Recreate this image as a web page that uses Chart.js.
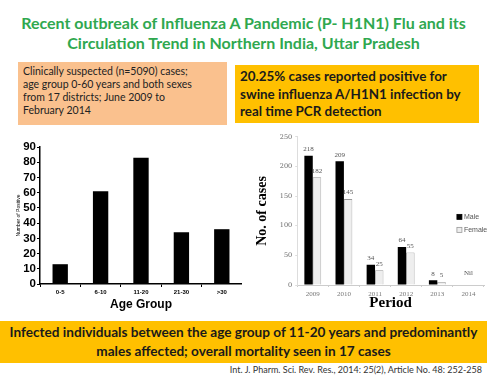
<!DOCTYPE html>
<html>
<head>
<meta charset="utf-8">
<script src="https://cdn.jsdelivr.net/npm/chart.js@4"></script>
<style>
  html, body { margin: 0; padding: 0; background: #fff; }
  body { width: 487px; height: 376px; position: relative; overflow: hidden; font-family: Lato, "Open Sans", sans-serif; }
  .abs { position: absolute; box-sizing: border-box; }
  #title { left: 0; top: 13px; width: 487px; text-align: center; color: #2fa84f; font-weight: bold; font-size: 16px; line-height: 20px; }
  #boxLeft { left: 18px; top: 62px; width: 209px; height: 63px; background: #fac18e; color: #222; font-size: 10.5px; line-height: 13px; padding: 3px 5px; }
  #boxRight { left: 235px; top: 65px; width: 244px; height: 58px; background: #ffc000; color: #1a1a1a; font-weight: bold; font-size: 13.4px; line-height: 17.5px; padding: 3px 5px; white-space: nowrap; }
  #banner { left: 0; top: 321px; width: 487px; height: 42px; background: #ffc000; color: #1a1a1a; font-weight: bold; font-size: 13.6px; line-height: 19px; padding-top: 2px; text-align: center; white-space: nowrap; }
  #cite { right: 5px; top: 365px; font-size: 9px; line-height: 10px; color: #333; white-space: nowrap; }
  #ageWrap { left: 0; top: 130px; width: 242px; height: 182px; }
  #periodWrap { left: 242px; top: 130px; width: 245px; height: 182px; }
</style>
</head>
<body>
<div id="title" class="abs">Recent outbreak of Influenza A Pandemic (P- H1N1) Flu and its<br>Circulation Trend in Northern India, Uttar Pradesh</div>
<div id="boxLeft" class="abs">Clinically suspected (n=5090) cases;<br>age group 0-60 years and both sexes<br>from 17 districts; June 2009 to<br>February 2014</div>
<div id="boxRight" class="abs">20.25% cases reported positive for<br>swine influenza A/H1N1 infection by<br>real time PCR detection</div>
<div id="ageWrap" class="abs"><canvas id="ageChart"></canvas></div>
<div id="periodWrap" class="abs"><canvas id="periodChart"></canvas></div>
<div id="banner" class="abs">Infected individuals between the age group of 11-20 years and predominantly<br>males affected; overall mortality seen in 17 cases</div>
<div id="cite" class="abs">Int. J. Pharm. Sci. Rev. Res., 2014: 25(2), Article No. 48: 252-258</div>

<script>
// age group chart data
const ageGroups = ["0-5", "6-10", "11-20", "21-30", ">30"];
const positiveByAge = [13, 61, 83, 34, 36];
const ageTicks = { min: 0, max: 90, step: 10 };

// yearly chart data (2014 = Nil)
const years = ["2009", "2010", "2011", "2012", "2013", "2014"];
const maleCases = [218, 209, 34, 64, 8, null];
const femaleCases = [182, 145, 25, 55, 5, null];
const yearTicks = { min: 0, max: 250, step: 50 };
const nilText = "Nil";

Chart.defaults.animation = false;

new Chart(document.getElementById("ageChart"), {
    type: "bar",
    data: {
        labels: ageGroups,
        datasets: [{
            label: "Number of Positive",
            data: positiveByAge,
            backgroundColor: "#000",
            barPercentage: 0.38,
            categoryPercentage: 1
        }]
    },
    options: {
        responsive: true,
        maintainAspectRatio: false,
        layout: { padding: { top: 17, right: 0, left: 0, bottom: 0 } },
        plugins: { legend: { display: false }, tooltip: { enabled: false } },
        scales: {
            x: {
                afterFit: s => { s.height = 28; },
                border: { color: "#000", width: 1.5 },
                grid: { drawOnChartArea: false, color: "#000", tickLength: 3 },
                ticks: { color: "#000", padding: 2, font: { family: "Liberation Sans", size: 6, weight: "bold" } },
                title: { display: true, text: "Age Group", color: "#000", padding: 0,
                         font: { family: "Liberation Sans", size: 12, weight: "bold" } }
            },
            y: {
                min: ageTicks.min,
                max: ageTicks.max,
                afterFit: s => { s.width = 40; },
                border: { color: "#000", width: 1.5 },
                grid: { drawOnChartArea: false, color: "#000", tickLength: 3 },
                ticks: { stepSize: ageTicks.step, autoSkip: false, color: "#000", padding: 1,
                         font: { family: "Liberation Sans", size: 11.5, weight: "bold" } },
                title: { display: true, text: "Number of Positive", color: "#000", padding: { top: 16, bottom: 0 },
                         font: { family: "Liberation Sans", size: 5 } }
            }
        }
    }
});

// labels above bars + "Nil" for the empty year
const barLabels = {
    id: "barLabels",
    afterDatasetsDraw(chart) {
        const ctx = chart.ctx;
        ctx.save();
        ctx.font = "7px 'Liberation Serif'";
        ctx.fillStyle = "#555";
        ctx.textAlign = "center";
        ctx.textBaseline = "bottom";
        chart.data.datasets.forEach((ds, i) => {
            chart.getDatasetMeta(i).data.forEach((bar, j) => {
                if (ds.data[j] == null) return;
                ctx.fillText(String(ds.data[j]), bar.x, bar.y - 3);
            });
        });
        years.forEach((y, j) => {
            if (maleCases[j] == null && femaleCases[j] == null) {
                ctx.fillText(nilText, chart.scales.x.getPixelForValue(j), chart.scales.y.getPixelForValue(0) - 8);
            }
        });
        ctx.restore();
    }
};

// small legend inside the plot, on the right
const innerLegend = {
    id: "innerLegend",
    afterDraw(chart) {
        const ctx = chart.ctx;
        const a = chart.chartArea;
        const x = a.left + (a.right - a.left) * 0.855;
        let y = a.top + (a.bottom - a.top) * 0.54;
        ctx.save();
        ctx.font = "7px 'Liberation Sans'";
        ctx.textBaseline = "middle";
        chart.data.datasets.forEach(ds => {
            ctx.fillStyle = ds.backgroundColor;
            ctx.fillRect(x, y - 2.5, 5, 5);
            ctx.strokeStyle = ds.borderColor;
            ctx.lineWidth = 0.8;
            ctx.strokeRect(x, y - 2.5, 5, 5);
            ctx.fillStyle = "#555";
            ctx.fillText(ds.label, x + 7, y);
            y += 13;
        });
        ctx.restore();
    }
};

new Chart(document.getElementById("periodChart"), {
    type: "bar",
    data: {
        labels: years,
        datasets: [
            { label: "Male", data: maleCases, backgroundColor: "#000", borderColor: "#000", borderWidth: 0 },
            { label: "Female", data: femaleCases, backgroundColor: "#eeeeee", borderColor: "#999", borderWidth: 0.8 }
        ]
    },
    options: {
        responsive: true,
        maintainAspectRatio: false,
        datasets: { bar: { barPercentage: 1, categoryPercentage: 0.54 } },
        layout: { padding: { top: 6, right: 3, left: 0, bottom: 0 } },
        plugins: { legend: { display: false }, tooltip: { enabled: false } },
        scales: {
            x: {
                afterFit: s => { s.height = 27; },
                border: { color: "#ccc", width: 1 },
                grid: { drawOnChartArea: false, color: "#ccc", tickLength: 2 },
                ticks: { color: "#777", padding: 3, font: { family: "Liberation Serif", size: 7 } },
                title: { display: true, text: "Period", color: "#000", padding: 0,
                         font: { family: "Liberation Serif", size: 15, weight: "bold" } }
            },
            y: {
                min: yearTicks.min,
                max: yearTicks.max,
                z: 1,
                border: { color: "#ddd", width: 1 },
                grid: { drawOnChartArea: false, color: "#ddd", tickLength: 2 },
                ticks: { stepSize: yearTicks.step, autoSkip: false, color: "#666", padding: 3,
                         font: { family: "DejaVu Serif", size: 6.5 } },
                title: { display: true, text: "No. of cases", color: "#000", padding: { top: 12, bottom: 6 },
                         font: { family: "Liberation Serif", size: 14, weight: "bold" } }
            }
        }
    },
    plugins: [barLabels, innerLegend]
});
</script>
</body>
</html>
